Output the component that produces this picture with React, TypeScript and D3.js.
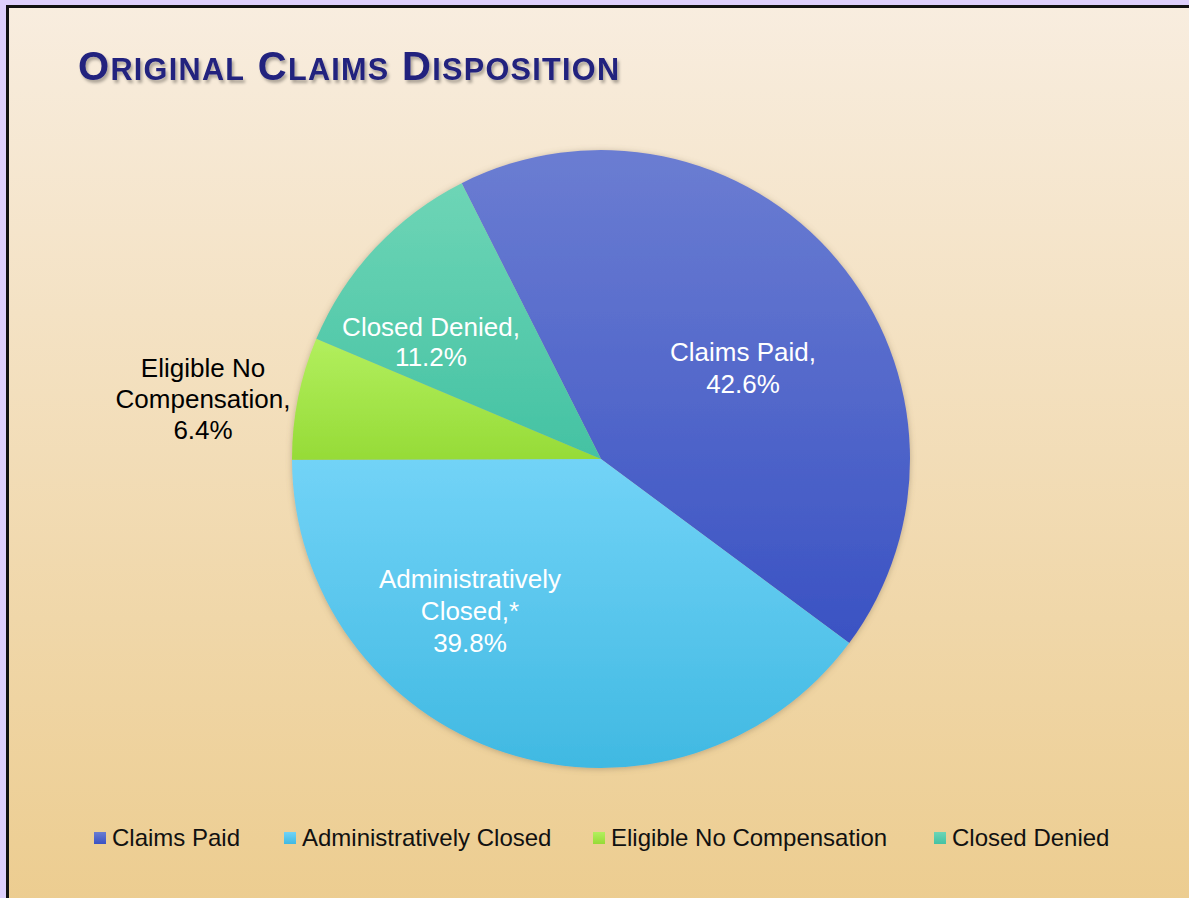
import React, { useEffect, useRef } from 'react'
import * as d3 from 'd3'

const WIDTH = 1189
const HEIGHT = 898

const categories = ['Claims Paid', 'Administratively Closed', 'Eligible No Compensation', 'Closed Denied']
const values = [42.6, 39.8, 6.4, 11.2]
const sliceLabels = [['Claims Paid,', '42.6%'], ['Administratively', 'Closed,*', '39.8%'], ['Eligible No', 'Compensation,', '6.4%'], ['Closed Denied,', '11.2%']]
const colorsTop = ['#6b7dd2', '#72d3f7', '#b2ef5e', '#6ed5b6']
const colorsBottom = ['#3a52c3', '#40b9e2', '#96db37', '#44c2a3']

const CX = 601
const CY = 459
const R = 309
const START_ANGLE = -26.8 * Math.PI / 180

export default function App() {
  const ref = useRef<SVGSVGElement>(null)

  useEffect(() => {
    const svg = d3.select(ref.current)
    svg.selectAll('*').remove()

    const defs = svg.append('defs')
    const bg = defs.append('linearGradient').attr('id', 'bg').attr('x1', 0).attr('y1', 0).attr('x2', 0).attr('y2', 1)
    bg.append('stop').attr('offset', '0%').attr('stop-color', '#f8eddf')
    bg.append('stop').attr('offset', '100%').attr('stop-color', '#eccc8e')

    categories.forEach((c, i) => {
      const g = defs.append('linearGradient').attr('id', `sl${i}`).attr('x1', 0).attr('y1', 0).attr('x2', 0).attr('y2', 1)
      g.append('stop').attr('offset', '0%').attr('stop-color', colorsTop[i])
      g.append('stop').attr('offset', '100%').attr('stop-color', colorsBottom[i])
    })

    const sh = defs.append('filter').attr('id', 'pieShadow').attr('x', '-10%').attr('y', '-10%').attr('width', '120%').attr('height', '120%')
    sh.append('feDropShadow').attr('dx', 0).attr('dy', 1).attr('stdDeviation', 3).attr('flood-color', '#7a6a50').attr('flood-opacity', 0.45)

    const tsh = defs.append('filter').attr('id', 'titleShadow').attr('x', '-5%').attr('y', '-30%').attr('width', '110%').attr('height', '160%')
    tsh.append('feDropShadow').attr('dx', 2).attr('dy', 3).attr('stdDeviation', 1.5).attr('flood-color', '#000').attr('flood-opacity', 0.3)

    // page
    svg.append('rect').attr('width', WIDTH).attr('height', HEIGHT).attr('fill', '#ddcffc')
    svg.append('rect')
      .attr('x', 7.5).attr('y', 6.5)
      .attr('width', WIDTH + 20).attr('height', HEIGHT + 20)
      .attr('fill', 'url(#bg)')
      .attr('stroke', '#111').attr('stroke-width', 3)

    // title
    const title = svg.append('text')
      .attr('x', 78).attr('y', 80)
      .attr('font-family', 'Liberation Sans, Arial, sans-serif')
      .attr('font-weight', 'bold')
      .attr('fill', '#20217e')
      .attr('letter-spacing', 1.3)
      .attr('filter', 'url(#titleShadow)')
    const words = ['Original', 'Claims', 'Disposition']
    words.forEach((w, i) => {
      title.append('tspan').attr('font-size', 40).text((i > 0 ? ' ' : '') + w[0].toUpperCase())
      title.append('tspan').attr('font-size', 30.6).text(w.slice(1).toUpperCase())
    })

    // pie
    const pie = d3.pie<number>().sort(null).startAngle(START_ANGLE).endAngle(START_ANGLE + 2 * Math.PI)
    const arcs = pie(values)
    const arc = d3.arc<d3.PieArcDatum<number>>().innerRadius(0).outerRadius(R)

    const pg = svg.append('g').attr('transform', `translate(${CX},${CY})`)
    pg.append('g').attr('filter', 'url(#pieShadow)')
      .selectAll('path')
      .data(arcs)
      .enter()
      .append('path')
      .attr('d', arc)
      .attr('fill', (d, i) => `url(#sl${i})`)

    // slice labels (positions relative to centre)
    const labelPos = [[142, -91], [-131, 152], [-398, -60], [-170, -117]]
    const labelColor = ['#fff', '#fff', '#000', '#fff']
    const lineH = [32, 32, 31, 30]
    arcs.forEach((d, i) => {
      const lines = sliceLabels[i]
      const t = pg.append('text')
        .attr('text-anchor', 'middle')
        .attr('font-family', 'Liberation Sans, Arial, sans-serif')
        .attr('font-size', 26)
        .attr('fill', labelColor[i])
      lines.forEach((l, j) => {
        t.append('tspan')
          .attr('x', labelPos[i][0])
          .attr('y', labelPos[i][1] + j * lineH[i] - ((lines.length - 1) * lineH[i]) / 2 + 9)
          .text(l)
      })
    })

    // legend
    const legendX = [94, 284, 593, 934]
    const lg = svg.append('g')
    categories.forEach((c, i) => {
      lg.append('rect')
        .attr('x', legendX[i]).attr('y', 832)
        .attr('width', 12).attr('height', 12)
        .attr('fill', `url(#sl${i})`)
      lg.append('text')
        .attr('x', legendX[i] + 18).attr('y', 846)
        .attr('font-family', 'Liberation Sans, Arial, sans-serif')
        .attr('font-size', 24)
        .attr('fill', '#111')
        .text(c)
    })
  }, [])

  return (
    <svg ref={ref} width={WIDTH} height={HEIGHT} style={{ position: 'fixed', left: 0, top: 0 }}></svg>
  )
}
